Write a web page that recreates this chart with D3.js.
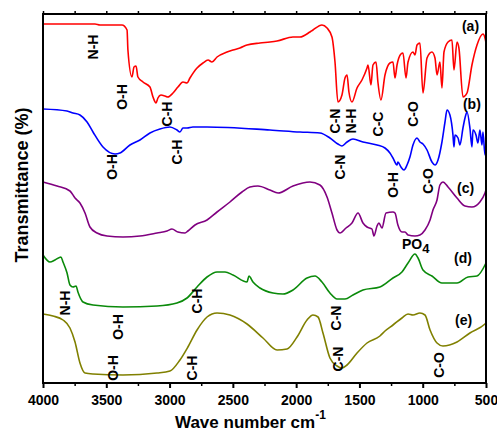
<!DOCTYPE html>
<html><head><meta charset="utf-8">
<script src="https://cdn.jsdelivr.net/npm/d3@7"></script>
<style>body{margin:0;background:#fff}svg{display:block}text{font-family:"Liberation Sans",Arial,sans-serif;font-weight:bold}</style>
</head><body>
<svg id="c" width="497" height="431"></svg>
<script>
// Wavenumber (cm-1), transmittance (arbitrary offset units)
const seriesA = [[4000,359],[3589,359],[3550,358],[3376,358],[3336,353],[3329,333],[3297,306],[3281,316],[3265,317],[3250,306],[3210,301],[3155,296],[3131,286],[3107,280],[3092,285],[3068,288],[3036,287],[3013,286],[2973,290],[2934,296],[2894,301],[2862,300],[2839,305],[2783,315],[2736,320],[2696,323],[2665,321],[2625,326],[2546,331],[2499,333],[2444,335],[2388,338],[2286,340],[2207,341],[2151,342],[2025,346],[1970,346],[1891,351],[1867,353],[1796,358],[1756,355],[1717,346],[1693,321],[1670,281],[1638,288],[1614,305],[1598,308],[1583,291],[1559,281],[1519,295],[1480,303],[1440,315],[1432,318],[1409,298],[1393,318],[1369,321],[1354,301],[1330,283],[1298,308],[1259,320],[1235,321],[1219,305],[1203,318],[1172,329],[1156,330],[1132,305],[1116,321],[1077,331],[1061,328],[1045,338],[1022,340],[998,290],[966,325],[927,331],[903,325],[887,308],[864,321],[848,295],[832,331],[800,341],[769,343],[753,313],[729,341],[714,335],[682,286],[650,290],[611,318],[571,338],[524,349],[508,345],[500,340]];
const seriesB = [[4000,274],[3810,272],[3763,270],[3708,268],[3652,261],[3605,251],[3526,236],[3431,229],[3392,230],[3313,238],[3234,243],[3155,250],[3076,254],[2997,256],[2942,253],[2918,251],[2894,255],[2862,255],[2815,256],[2704,256],[2207,253],[1970,251],[1812,250],[1733,245],[1670,239],[1638,237],[1598,241],[1551,244],[1472,241],[1361,238],[1298,235],[1259,230],[1235,225],[1203,218],[1196,221],[1172,216],[1148,213],[1124,218],[1101,226],[1077,238],[1045,245],[1022,241],[998,239],[966,233],[927,221],[903,218],[879,223],[848,241],[824,261],[808,273],[785,268],[761,248],[753,236],[745,248],[721,245],[706,238],[682,255],[666,265],[650,271],[627,255],[611,236],[603,253],[579,248],[564,240],[548,253],[532,238],[524,251],[508,228],[500,231]];
const seriesC = [[4000,201],[3889,197],[3787,192],[3747,185],[3708,180],[3668,170],[3629,156],[3573,150],[3494,147],[3368,146],[3234,147],[3099,150],[3020,152],[2981,154],[2934,151],[2878,150],[2855,152],[2799,158],[2704,163],[2625,171],[2523,181],[2428,191],[2365,196],[2302,197],[2207,193],[2143,190],[2025,197],[1891,201],[1812,198],[1756,186],[1717,170],[1677,153],[1654,150],[1606,155],[1559,160],[1511,170],[1472,160],[1440,156],[1401,154],[1385,147],[1361,157],[1346,160],[1322,155],[1290,170],[1235,171],[1219,170],[1196,158],[1164,151],[1140,151],[1116,148],[1061,147],[1022,148],[982,153],[942,163],[919,173],[887,183],[864,198],[840,201],[800,196],[729,185],[666,177],[611,176],[548,181],[508,190],[500,193]];
const seriesD = [[4000,128],[3945,121],[3905,123],[3858,126],[3842,121],[3810,110],[3787,98],[3763,96],[3739,97],[3724,91],[3684,81],[3605,78],[3368,76],[3099,77],[2942,80],[2862,85],[2783,96],[2704,106],[2625,111],[2562,111],[2499,108],[2388,101],[2373,107],[2341,101],[2286,95],[2183,90],[2104,89],[2025,93],[1914,105],[1851,107],[1796,101],[1733,90],[1677,84],[1614,84],[1551,88],[1472,93],[1338,96],[1235,105],[1164,111],[1116,120],[1061,129],[1037,125],[998,113],[927,107],[848,100],[729,100],[642,106],[571,107],[500,120]];
const seriesE = [[4000,69],[3921,67],[3842,63],[3787,55],[3747,41],[3708,20],[3668,10],[3605,9],[3368,8],[3099,10],[2997,12],[2918,23],[2855,36],[2783,53],[2704,66],[2625,70],[2523,68],[2388,59],[2262,45],[2151,33],[2072,34],[1993,46],[1914,63],[1867,68],[1827,66],[1788,50],[1733,25],[1677,17],[1638,15],[1598,18],[1519,30],[1440,40],[1338,47],[1298,52],[1235,58],[1164,65],[1116,69],[1077,68],[1022,70],[982,68],[942,53],[887,40],[840,37],[729,41],[627,50],[508,59],[500,60]];

const seriesNames = ["(a)","(b)","(c)","(d)","(e)"];
const seriesColors = ["#ff0000","#0000ff","#800080","#0a8a0a","#808000"];
const nameLabelPos = [[690,352],[682,274],[729,190],[753,120],[745,58]];

// band assignments: text, wavenumber, transmittance position
const bandLabels = [
 ["N-H",3605,336],["O-H",3376,286],["C-H",3020,269],["C-N",1693,262],["N-H",1567,262],["C-C",1354,259],["C-O",1077,269],
 ["O-H",3455,216],["C-H",2942,231],["C-N",1654,216],["O-H",1235,198],["C-O",958,202],
 ["N-H",3826,80],["O-H",3408,56],["C-H",2783,82],["C-N",1685,65],
 ["O-H",3447,15],["C-H",2823,15],["C-N",1670,24],["C-O",871,18]
];
const po4Label = [1164,134];

const xTicks = [4000,3500,3000,2500,2000,1500,1000,500];
const xMinor = [3750,3250,2750,2250,1750,1250,750];

const svg = d3.select("#c");
const x = d3.scaleLinear().domain([4000,500]).range([43,486]);
const y = d3.scaleLinear().domain([0,369]).range([383,14]);

const line = d3.line().x(d=>x(d[0])).y(d=>y(d[1])).curve(d3.curveMonotoneX);
[seriesA,seriesB,seriesC,seriesD,seriesE].forEach((s,i)=>{
  svg.append("path").attr("d",line(s)).attr("fill","none").attr("stroke",seriesColors[i]).attr("stroke-width",1.6).attr("stroke-linejoin","round");
});

// frame
svg.append("rect").attr("x",x(4000)).attr("y",y(369)).attr("width",x(500)-x(4000)).attr("height",y(0)-y(369))
  .attr("fill","none").attr("stroke","#000").attr("stroke-width",2);

// bottom axis
const gB = svg.append("g").attr("transform",`translate(0,${y(0)})`)
  .call(d3.axisBottom(x).tickValues(xTicks).tickSize(5).tickFormat(d3.format("d")));
gB.select(".domain").remove();
gB.selectAll("line").attr("stroke-width",2);
gB.selectAll("text").attr("font-size",14).attr("font-weight","bold").attr("fill","#000").attr("dy","1.0em")
  .style("font-family","'Liberation Sans',Arial,sans-serif");
const gBm = svg.append("g").attr("transform",`translate(0,${y(0)})`)
  .call(d3.axisBottom(x).tickValues(xMinor).tickSize(3).tickFormat(""));
gBm.select(".domain").remove(); gBm.selectAll("line").attr("stroke-width",1.5);
// top axis
const gT = svg.append("g").attr("transform",`translate(0,${y(369)})`)
  .call(d3.axisTop(x).tickValues(xTicks.concat(xMinor)).tickSize(3).tickFormat(""));
gT.select(".domain").remove(); gT.selectAll("line").attr("stroke-width",1.5);

// axis titles
svg.append("text").attr("transform","translate(28,185) rotate(-90)").attr("text-anchor","middle")
  .attr("font-size",18).text("Transmittance (%)");
const xt = svg.append("text").attr("x",175).attr("y",428).attr("font-size",17);
xt.append("tspan").text("Wave number cm");
xt.append("tspan").attr("dy",-9).attr("font-size",12).text("-1");

// band labels
bandLabels.forEach(b=>{
  svg.append("text").attr("transform",`translate(${x(b[1])},${y(b[2])}) rotate(-90)`)
    .attr("text-anchor","middle").attr("dominant-baseline","central").attr("font-size",14).text(b[0]);
});
const po = svg.append("text").attr("x",x(po4Label[0])).attr("y",y(po4Label[1])).attr("font-size",14);
po.append("tspan").text("PO");
po.append("tspan").attr("dy",4).attr("font-size",13).text("4");

seriesNames.forEach((n,i)=>{
  svg.append("text").attr("x",x(nameLabelPos[i][0])).attr("y",y(nameLabelPos[i][1])).attr("font-size",14).text(n);
});
</script>
</body></html>
